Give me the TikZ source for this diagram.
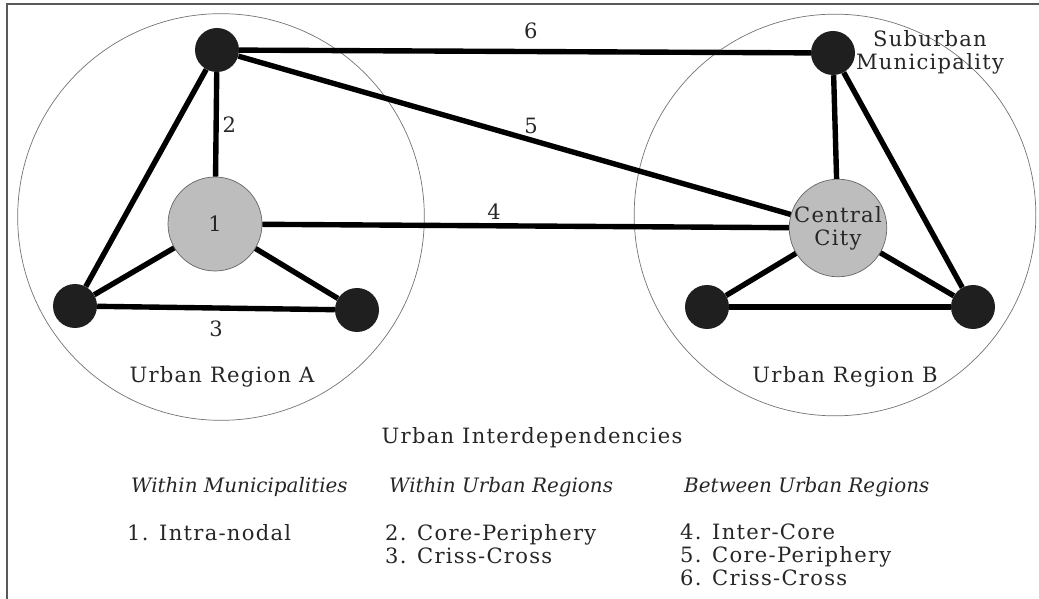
\documentclass[tikz,border=0pt]{standalone}
\usepackage{fontspec}
\setmainfont{DejaVu Serif}[LetterSpace=6,ItalicFeatures={LetterSpace=0}]
\usetikzlibrary{positioning}

\begin{document}
\begin{tikzpicture}[x=0.03cm,y=-0.03cm,font=\fontsize{18}{19.6}\selectfont,text=black!85,
	region/.style={circle,draw=black!55,line width=0.6pt,inner sep=0pt},
	core node/.style={circle,draw=black!60,line width=0.6pt,fill=black!26,minimum size=2.82cm,inner sep=0pt,align=center},
	sub node/.style={circle,fill=black!88,minimum size=1.32cm,inner sep=0pt},
	link/.style={line width=4.6pt},
	head/.style={anchor=west,font=\fontsize{17}{19.6}\selectfont\itshape},
	item/.style={anchor=north west,align=left,inner sep=0pt}]
	\useasboundingbox (0,0) rectangle (1039,599);
	\draw[black!65,line width=1.2pt] (7,599) -- (7,4) -- (1039,4);
	% urban region A
	\node[region,minimum size=12.2cm] (ra) at (221,217) {};
	\node[core node] (a0) at (215,224) {1};
	\node[sub node] (a1) at (217,50) {};
	\node[sub node] (a2) at (75,306) {};
	\node[sub node] (a3) at (357,310) {};
	\node (la) at (222,377) {Urban Region A};
	% urban region B
	\node[region,minimum size=12.05cm] (rb) at (835,215) {};
	\node[core node] (b0) at (838,228) {Central\\City};
	\node[sub node] (b1) at (833,53) {};
	\node[sub node] (b2) at (707,307) {};
	\node[sub node] (b3) at (973,307) {};
	\node[align=center] (lsub) at (930,52) {Suburban\\Municipality};
	\node (lb) at (845,377) {Urban Region B};
	% links
	\path[link]
	(a1) edge node[right] {2} (a0)
	     edge (a2)
	(a0) edge (a2)
	     edge (a3)
	(a2) edge node[below=5pt] {3} (a3)
	(a1) edge node[above=5pt,pos=0.51] {6} (b1)
	     edge node[above,pos=0.53] {5} (b0)
	(a0) edge node[above,pos=0.44] {4} (b0)
	(b1) edge (b0)
	     edge (b3)
	(b0) edge (b2)
	     edge (b3)
	(b2) edge (b3);
	% legend
	\node (title) at (532,438) {Urban Interdependencies};
	\node[head] (h1) at (127,487) {Within Municipalities};
	\node[head] (h2) at (385,487) {Within Urban Regions};
	\node[head] (h3) at (680,487) {Between Urban Regions};
	\node[item] (i1) at (127,524) {1. Intra-nodal};
	\node[item] (i2) at (385,524) {2. Core-Periphery\\3. Criss-Cross};
	\node[item] (i3) at (680,524) {4. Inter-Core\\5. Core-Periphery\\6. Criss-Cross};
\end{tikzpicture}
\end{document}
